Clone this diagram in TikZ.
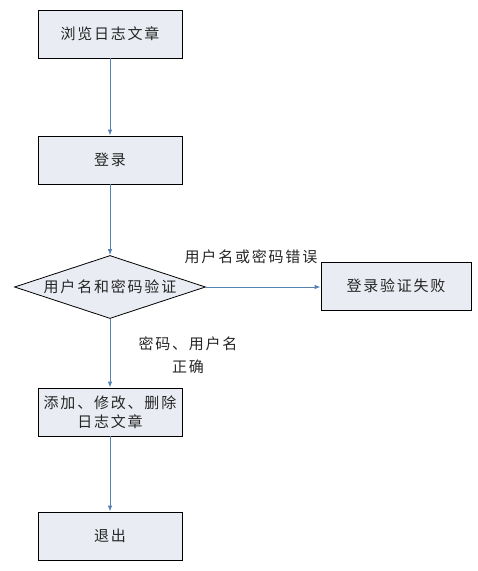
\documentclass[tikz,border=0pt]{standalone}
\usepackage{fontspec}
\newfontfamily\cjk[LetterSpace=12]{Noto Sans CJK SC}
\usetikzlibrary{arrows.meta,shapes.geometric}
\definecolor{boxfill}{RGB}{233,236,242}
\definecolor{flowline}{RGB}{84,130,178}

\begin{document}
\begin{tikzpicture}[x=1pt, y=-1pt,
	stepbox/.style={draw=black, fill=boxfill, line width=0.8pt, minimum width=144pt, minimum height=48pt, inner sep=0pt, align=center, font=\cjk\fontsize{15}{19}\selectfont, text=black!85},
	checkbox/.style={draw=black, fill=boxfill, line width=0.8pt, shape=diamond, aspect=3, minimum width=191pt, minimum height=63pt, inner sep=0pt, font=\cjk\fontsize{15}{19}\selectfont, text=black!85},
	flow/.style={draw=flowline, line width=0.9pt, -{Latex[length=6pt,width=4.5pt]}},
	note/.style={align=center, font=\cjk\fontsize{15}{23}\selectfont, text=black!85}]
			%%%%% START %%%%%
			
			\useasboundingbox[fill=white] (0, 0) rectangle (478, 571);
			
			\node[stepbox] (browse) at (110, 34) {浏览日志文章};
			\node[stepbox] (login) at (110, 160) {登录};
			\node[checkbox] (check) at (110, 287) {用户名和密码验证};
			\node[stepbox, minimum width=150pt] (fail) at (396, 286) {登录验证失败};
			\node[stepbox] (edit) at (110, 412) {添加、修改、删除\\日志文章};
			\node[stepbox] (quit) at (110, 536) {退出};
			
			\node[note] (wrong) at (251, 257) {用户名或密码错误};
			\node[note] (right) at (188, 355) {密码、用户名\\正确};
			
			\draw[flow] (browse) -- (login);
			\draw[flow] (login) -- (check);
			\draw[flow] (check.east) -- (fail.west |- check.east);
			\draw[flow] (check) -- (edit);
			\draw[flow] (edit) -- (quit);
			
			%%%%% END %%%%%
		\end{tikzpicture}
\end{document}
